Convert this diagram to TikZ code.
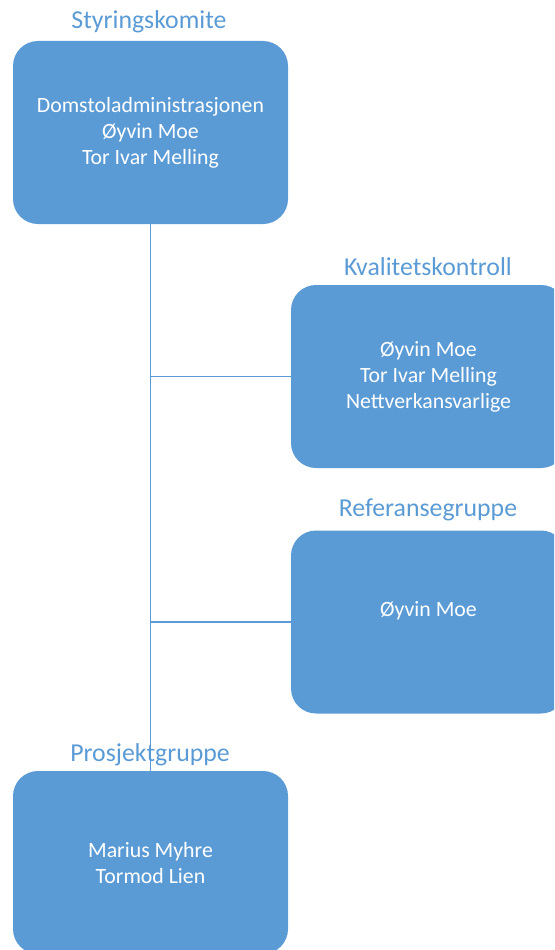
\documentclass[tikz,border=0pt]{standalone}
\usepackage{fontspec}
\setmainfont{Carlito}
\definecolor{orgblue}{RGB}{91,155,213}
\definecolor{titleblue}{RGB}{91,155,213}
\begin{document}
\begin{tikzpicture}[x=1pt,y=-1pt,
  box/.style={fill=orgblue, draw=none, rounded corners=25pt,
    minimum width=275pt, minimum height=183pt, inner sep=0pt,
    text=white, align=center, font=\fontsize{21.8}{26}\selectfont},
  grouptitle/.style={text=titleblue, inner sep=0pt,
    font=\fontsize{25.8}{30}\selectfont},
  conn/.style={draw=orgblue, line width=1.4pt}]
\useasboundingbox (0,0) rectangle (554,950);
\clip (0,0) rectangle (554,950);

% group boxes
\node[box] (styring) at (150.5,132.5)
  {Domstoladministrasjonen\\Øyvin Moe\\Tor Ivar Melling};
\node[box] (kvalitet) at (428.5,376.5)
  {Øyvin Moe\\Tor Ivar Melling\\Nettverkansvarlige};
\node[box] (referanse) at (428.5,622)
  {Øyvin Moe\\\mbox{}};
\node[box] (prosjekt) at (150.5,862.5)
  {Marius Myhre\\Tormod Lien};

% group titles
\node[grouptitle] (t-styring) at (149,22) {Styringskomite};
\node[grouptitle] (t-kvalitet) at (428,267) {Kvalitetskontroll};
\node[grouptitle] (t-referanse) at (428,510) {Referansegruppe};
\node[grouptitle] (t-prosjekt) at (150,755) {Prosjektgruppe};

% connectors
\coordinate (spine-end) at ([yshift=-3pt]prosjekt.north -| styring.south);
\draw[conn] (styring.south) -- (spine-end);
\draw[conn] (styring.south |- kvalitet.west) -- (kvalitet.west);
\draw[conn] (styring.south |- referanse.west) -- (referanse.west);
\end{tikzpicture}
\end{document}
